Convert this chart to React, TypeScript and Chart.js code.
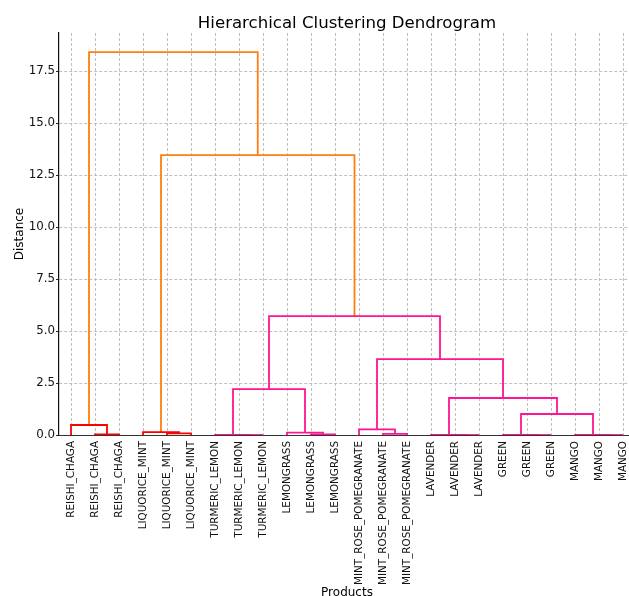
import React, { useEffect, useRef } from "react";
import { Chart, registerables } from "chart.js";

Chart.register(...registerables);

const leafLabels = [
  "REISHI_CHAGA", "REISHI_CHAGA", "REISHI_CHAGA",
  "LIQUORICE_MINT", "LIQUORICE_MINT", "LIQUORICE_MINT",
  "TURMERIC_LEMON", "TURMERIC_LEMON", "TURMERIC_LEMON",
  "LEMONGRASS", "LEMONGRASS", "LEMONGRASS",
  "MINT_ROSE_POMEGRANATE", "MINT_ROSE_POMEGRANATE", "MINT_ROSE_POMEGRANATE",
  "LAVENDER", "LAVENDER", "LAVENDER",
  "GREEN", "GREEN", "GREEN",
  "MANGO", "MANGO", "MANGO",
];

// cluster membership of each leaf (0 = red cluster, 1 = pink cluster)
const leafCluster = [0, 0, 0, 0, 0, 0, 1, 1, 1, 1, 1, 1, 1, 1, 1, 1, 1, 1, 1, 1, 1, 1, 1, 1];

// linkage (scipy style): merge k creates node 24 + k
const mergeLeft = [7, 16, 19, 22, 6, 15, 18, 21, 1, 10, 13, 4, 9, 3, 12, 0, 30, 29, 28, 38, 42, 37, 39];
const mergeRight = [8, 17, 20, 23, 24, 25, 26, 27, 2, 11, 14, 5, 33, 35, 34, 32, 31, 40, 36, 41, 43, 44, 45];
const mergeHeight = [0.0, 0.0, 0.0, 0.0, 0.01, 0.01, 0.01, 0.01, 0.03, 0.03, 0.05, 0.08, 0.11, 0.14, 0.27, 0.48, 1.01, 1.78, 2.21, 3.65, 5.72, 13.46, 18.41];

const distanceTicks = [0, 2.5, 5, 7.5, 10, 12.5, 15, 17.5];

const FONT = "'DejaVu Sans', sans-serif";
const clusterColors = ["#ff0000", "#ff1493"];
const aboveColor = "#ff7f0e";

function buildLinks() {
  const n = leafLabels.length;
  const nodeX: number[] = [];
  const nodeH: number[] = [];
  const nodeC: number[] = [];
  for (let i = 0; i < n; i++) {
    nodeX.push(5 + 10 * i);
    nodeH.push(0);
    nodeC.push(leafCluster[i]);
  }
  const links: { data: { x: number; y: number }[]; color: string }[] = [];
  for (let k = 0; k < mergeHeight.length; k++) {
    const l = mergeLeft[k];
    const r = mergeRight[k];
    const h = mergeHeight[k];
    const c = nodeC[l] === nodeC[r] ? nodeC[l] : -1;
    links.push({
      data: [
        { x: nodeX[l], y: nodeH[l] },
        { x: nodeX[l], y: h },
        { x: nodeX[r], y: h },
        { x: nodeX[r], y: nodeH[r] },
      ],
      color: c >= 0 ? clusterColors[c] : aboveColor,
    });
    nodeX.push((nodeX[l] + nodeX[r]) / 2);
    nodeH.push(h);
    nodeC.push(c);
  }
  return { links, leafX: nodeX.slice(0, n) };
}

const textPlugin = {
  id: "dendroTexts",
  afterDatasetsDraw(chart: any) {
    const { ctx, chartArea: a } = chart;
    ctx.save();
    ctx.strokeStyle = "#333";
    ctx.lineWidth = 1;
    ctx.beginPath();
    ctx.moveTo(a.left, Math.round(a.bottom) + 0.5);
    ctx.lineTo(a.right, Math.round(a.bottom) + 0.5);
    ctx.stroke();
    ctx.restore();
  },
  afterDraw(chart: any) {
    const { ctx, chartArea: a } = chart;
    ctx.save();
    ctx.fillStyle = "#000";
    ctx.textAlign = "center";
    ctx.textBaseline = "alphabetic";
    ctx.font = `16.6px ${FONT}`;
    ctx.fillText("Hierarchical Clustering Dendrogram", (a.left + a.right) / 2, 27.5);
    ctx.font = `12px ${FONT}`;
    ctx.fillText("Products", (a.left + a.right) / 2, 595.5);
    ctx.translate(22.5, (a.top + a.bottom) / 2);
    ctx.rotate(-Math.PI / 2);
    ctx.fillText("Distance", 0, 0);
    ctx.restore();
  },
};

export default function App() {
  const ref = useRef<HTMLCanvasElement | null>(null);
  useEffect(() => {
    document.body.style.margin = "0";
    const { links, leafX } = buildLinks();
    const chart = new Chart(ref.current as HTMLCanvasElement, {
      type: "line",
      data: {
        datasets: links.map((lk) => ({
          data: lk.data,
          borderColor: lk.color,
          backgroundColor: lk.color,
          borderWidth: 1.8,
          pointRadius: 0,
          tension: 0,
          fill: false,
        })),
      },
      options: {
        animation: false,
        responsive: false,
        events: [],
        layout: { padding: { top: 33, right: 25, left: 0, bottom: 0 } },
        plugins: {
          legend: { display: false },
          tooltip: { enabled: false },
          title: { display: false },
        },
        scales: {
          x: {
            type: "linear",
            min: 0,
            max: 240,
            afterBuildTicks: (s: any) => {
              s.ticks = leafX.map((v) => ({ value: v }));
            },
            afterFit: (s: any) => {
              s.height = 161;
            },
            ticks: {
              autoSkip: false,
              minRotation: 90,
              maxRotation: 90,
              padding: 6,
              color: "#111",
              font: { family: FONT, size: 10.4 },
              callback: (_v: any, i: number) => leafLabels[i],
            },
            grid: { drawTicks: false, color: "#b0b0b0", lineWidth: 0.8 },
            border: { display: true, color: "#333", width: 1, dash: [3, 2] },
          },
          y: {
            type: "linear",
            min: 0,
            max: 19.33,
            afterBuildTicks: (s: any) => {
              s.ticks = distanceTicks.map((v) => ({ value: v }));
            },
            afterFit: (s: any) => {
              s.width = 59;
            },
            ticks: {
              padding: 1,
              color: "#111",
              font: { family: FONT, size: 11.8 },
              callback: (v: any) => Number(v).toFixed(1),
            },
            grid: {
              drawTicks: true,
              tickLength: 3,
              tickColor: "#222",
              tickWidth: 1,
              color: "#b0b0b0",
              lineWidth: 0.8,
            },
            border: { display: true, color: "#111", width: 1.2, dash: [3, 2] },
          },
        },
      },
      plugins: [textPlugin],
    });
    return () => chart.destroy();
  }, []);
  return (
    <div style={{ width: 629, height: 596, overflow: "hidden", position: "relative", background: "#fff" }}>
      <canvas ref={ref} width={660} height={596} style={{ display: "block" }} />
    </div>
  );
}
